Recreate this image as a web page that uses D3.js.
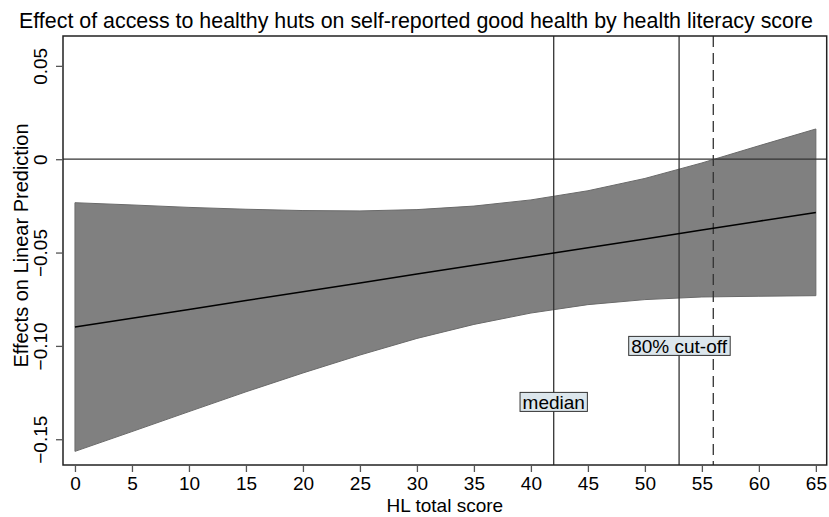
<!DOCTYPE html>
<html>
<head>
<meta charset="utf-8">
<script src="https://cdn.jsdelivr.net/npm/d3@7"></script>
<style>
  html, body { margin: 0; padding: 0; background: #fff; }
  svg { display: block; font-family: "Liberation Sans", Arial, Helvetica, sans-serif; }
</style>
</head>
<body>
<svg id="chart" width="829" height="517"></svg>
<script>
// HL total score at which the marginal effect is evaluated
const hlScore = [0, 5, 10, 15, 20, 25, 30, 35, 40, 45, 50, 55, 60, 65];
// Effect of healthy-hut access on the linear prediction
const effect = [-0.0899, -0.0852, -0.0805, -0.0757, -0.0710, -0.0663, -0.0615,
                -0.0568, -0.0521, -0.0474, -0.0427, -0.0379, -0.0332, -0.0285];
// 95% confidence limits
const ciUpper = [-0.0233, -0.0245, -0.0258, -0.0268, -0.0275, -0.0277, -0.0270,
                 -0.0251, -0.0218, -0.0169, -0.0103, -0.0020, 0.0072, 0.0162];
const ciLower = [-0.1565, -0.1459, -0.1352, -0.1246, -0.1145, -0.1049, -0.0960,
                 -0.0885, -0.0824, -0.0779, -0.0752, -0.0738, -0.0734, -0.0731];

const xTicks = [0, 5, 10, 15, 20, 25, 30, 35, 40, 45, 50, 55, 60, 65];
const yTicks = [-0.15, -0.10, -0.05, 0, 0.05];
const yTickLabels = ["\u22120.15", "\u22120.10", "\u22120.05", "0", "0.05"];

// Reference lines: median and 80% cut-off of the HL score
const refLines = [
  { score: 42, dashed: false },
  { score: 53, dashed: false },
  { score: 56, dashed: true }
];
const refLabels = [
  { text: "median", score: 42, value: -0.130 },
  { text: "80% cut-off", score: 53, value: -0.100 }
];

const titleText = "Effect of access to healthy huts on self-reported good health by health literacy score";
const xTitle = "HL total score";
const yTitle = "Effects on Linear Prediction";

const svg = d3.select("#chart");
const plot = { left: 63, right: 826.7, top: 36, bottom: 465 };

const x = d3.scaleLinear().domain([-1.05, 65.95]).range([plot.left, plot.right]);
const y = d3.scaleLinear().domain([-0.1638, 0.066]).range([plot.bottom, plot.top]);

const rows = hlScore.map((s, i) => ({ s, e: effect[i], lo: ciLower[i], hi: ciUpper[i] }));

// Confidence band
svg.append("path")
  .datum(rows)
  .attr("d", d3.area().x(d => x(d.s)).y0(d => y(d.lo)).y1(d => y(d.hi)))
  .attr("fill", "#808080")
  .attr("stroke", "#6a6a6a")
  .attr("stroke-width", 1);

// Zero line
svg.append("line")
  .attr("x1", plot.left).attr("x2", plot.right)
  .attr("y1", y(0)).attr("y2", y(0))
  .attr("stroke", "#333").attr("stroke-width", 1.3);

// Vertical reference lines
svg.selectAll("line.ref")
  .data(refLines)
  .join("line")
  .attr("class", "ref")
  .attr("x1", d => x(d.score)).attr("x2", d => x(d.score))
  .attr("y1", plot.top).attr("y2", plot.bottom)
  .attr("stroke", "#333")
  .attr("stroke-width", 1.3)
  .attr("stroke-dasharray", d => d.dashed ? "11,6" : null);

// Point estimate
svg.append("path")
  .datum(rows)
  .attr("d", d3.line().x(d => x(d.s)).y(d => y(d.e)))
  .attr("fill", "none")
  .attr("stroke", "#000")
  .attr("stroke-width", 1.6);

// Boxed labels for the reference lines
const lab = svg.selectAll("g.reflabel")
  .data(refLabels)
  .join("g")
  .attr("class", "reflabel")
  .attr("transform", d => `translate(${x(d.score)},${y(d.value)})`);
lab.append("rect").attr("class", "box");
lab.append("text")
  .attr("text-anchor", "middle")
  .attr("dy", "0.36em")
  .attr("font-size", 19)
  .attr("fill", "#000")
  .text(d => d.text);
lab.each(function() {
  const g = d3.select(this);
  const bb = g.select("text").node().getBBox();
  g.select("rect")
    .attr("x", bb.x - 2.5).attr("y", -9.5)
    .attr("width", bb.width + 5).attr("height", 19)
    .attr("fill", "#dce6ec")
    .attr("stroke", "#333")
    .attr("stroke-width", 1);
});

// Plot frame
svg.append("rect")
  .attr("x", plot.left).attr("y", plot.top)
  .attr("width", plot.right - plot.left).attr("height", plot.bottom - plot.top)
  .attr("fill", "none").attr("stroke", "#222").attr("stroke-width", 1.5);

// X axis
const xAxis = svg.append("g")
  .attr("transform", `translate(0,${plot.bottom})`)
  .call(d3.axisBottom(x).tickValues(xTicks).tickSize(7).tickPadding(5).tickFormat(d3.format("d")));
xAxis.select(".domain").remove();
xAxis.selectAll(".tick line").attr("stroke", "#555").attr("stroke-width", 1.3);
xAxis.selectAll(".tick text")
  .attr("font-size", 19).attr("font-family", "Liberation Sans, Arial, sans-serif").attr("fill", "#000");

// Y axis
const yAxis = svg.append("g")
  .attr("transform", `translate(${plot.left},0)`)
  .call(d3.axisLeft(y).tickValues(yTicks).tickSize(7).tickFormat((d, i) => yTickLabels[i]));
yAxis.select(".domain").remove();
yAxis.selectAll(".tick line").attr("stroke", "#555").attr("stroke-width", 1.3);
yAxis.selectAll(".tick text")
  .attr("font-size", 19).attr("font-family", "Liberation Sans, Arial, sans-serif").attr("fill", "#000")
  .attr("text-anchor", "middle")
  .attr("dy", null)
  .attr("x", null)
  .attr("transform", "translate(-16,0) rotate(-90)");

// Titles
svg.append("text")
  .attr("x", 416).attr("y", 28)
  .attr("text-anchor", "middle")
  .attr("font-size", 21.4)
  .text(titleText);

svg.append("text")
  .attr("x", (plot.left + plot.right) / 2).attr("y", 512)
  .attr("text-anchor", "middle")
  .attr("font-size", 19)
  .text(xTitle);

svg.append("text")
  .attr("transform", `translate(28,${(plot.top + plot.bottom) / 2 - 5}) rotate(-90)`)
  .attr("text-anchor", "middle")
  .attr("font-size", 20)
  .text(yTitle);
</script>
</body>
</html>
